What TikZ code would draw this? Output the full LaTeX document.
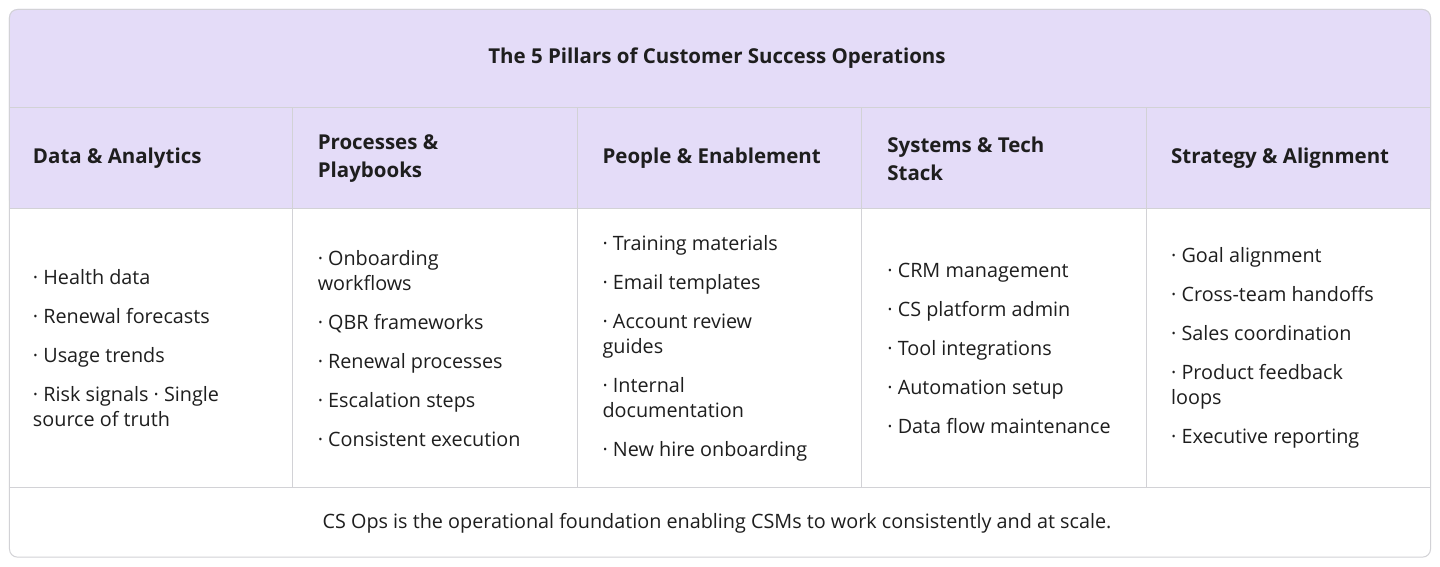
\documentclass[tikz,border=0pt]{standalone}
\usepackage{fontspec}
\setmainfont{Open Sans}
\definecolor{lav}{HTML}{E4DCF8}
\definecolor{rule}{HTML}{D2D2D6}
\definecolor{ink}{HTML}{1E1E1E}
\begin{document}
\begin{tikzpicture}[x=1pt,y=-1pt,
                main/.style = {anchor=west, align=left, text=ink, inner sep=0pt, font=\fontsize{19.8}{25}\selectfont},
                head/.style = {anchor=west, align=left, text=ink, inner sep=0pt, font=\fontsize{20.5}{28}\selectfont\bfseries},
                every path/.style = {draw=rule, line width=1pt}]
                \useasboundingbox (0,0) rectangle (1440,566);
                \fill[white] (0,0) rectangle (1440,566);
                \fill[lav, rounded corners=8pt] (9,9) rectangle (1431,208);
                \fill[lav] (9,100) rectangle (1431,208);
                \draw (9,107) -- (1431,107);
                \draw (9,208) -- (1431,208);
                \draw (9,487) -- (1431,487);
                \foreach \x in {292,577,862,1147}
                    \draw (\x,107) -- (\x,487);
                \draw[rounded corners=8pt] (9,9) rectangle (1431,557);
                \node[head, anchor=center] (t) at (717,58) {The 5 Pillars of Customer Success Operations};
                \node[head] (h1) at (32,158) {Data \& Analytics};
                \node[head] (h2) at (317,158) {Processes \&\\Playbooks};
                \node[head] (h3) at (602,158) {People \& Enablement};
                \node[head] (h4) at (887,158) {Systems \& Tech\\Stack};
                \node[head] (h5) at (1171,158) {Strategy \& Alignment};
                \node[main] (b1) at (32,348) {· Health data\\[14pt]· Renewal forecasts\\[14pt]· Usage trends\\[14pt]· Risk signals · Single\\source of truth};
                \node[main] (b2) at (317,348) {· Onboarding\\workflows\\[14pt]· QBR frameworks\\[14pt]· Renewal processes\\[14pt]· Escalation steps\\[14pt]· Consistent execution};
                \node[main] (b3) at (602,348) {· Training materials\\[14pt]· Email templates\\[14pt]· Account review\\guides\\[14pt]· Internal\\documentation\\[14pt]· New hire onboarding};
                \node[main] (b4) at (887,348) {· CRM management\\[14pt]· CS platform admin\\[14pt]· Tool integrations\\[14pt]· Automation setup\\[14pt]· Data flow maintenance};
                \node[main] (b5) at (1171,348) {· Goal alignment\\[14pt]· Cross-team handoffs\\[14pt]· Sales coordination\\[14pt]· Product feedback\\loops\\[14pt]· Executive reporting};
                \node[main, anchor=center] (f) at (717,523) {CS Ops is the operational foundation enabling CSMs to work consistently and at scale.};
            \end{tikzpicture}
\end{document}
